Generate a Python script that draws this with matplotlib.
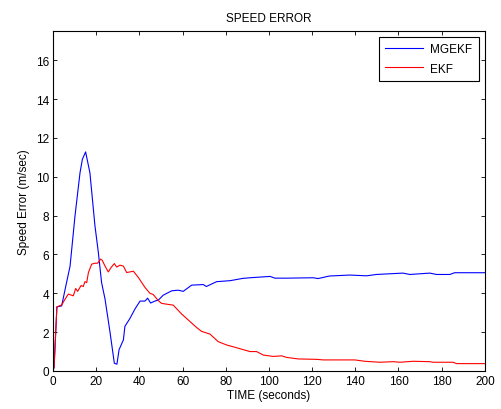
import numpy as np
import matplotlib
matplotlib.use('Agg')
import matplotlib.pyplot as plt

plt.rcParams['font.family'] = ['Liberation Sans', 'DejaVu Sans']

# MGEKF speed error
t_mgekf = [0, 0.5, 1.8, 4, 5.6, 7.9, 10.2, 12.5, 13.6, 15.1, 17.1, 19.4, 21, 22.5,
           24.1, 26.4, 28.4, 29.6, 30.6, 32.6, 33.3, 35.6, 38, 40.3, 42.6, 43.8,
           45.2, 47.2, 48.8, 51, 55, 58, 60.3, 64.2, 69.6, 71, 75.8, 82, 88, 91.2,
           100.5, 102.8, 108, 120.5, 122.8, 128, 137.5, 145.2, 149.8, 162, 165.3,
           174.5, 177.6, 183.8, 186, 200]
v_mgekf = [0, 0.2, 3.3, 3.35, 4.2, 5.4, 8.0, 10.2, 10.9, 11.28, 10.2, 7.5, 6.1, 4.55,
           3.7, 2.0, 0.4, 0.35, 1.1, 1.6, 2.3, 2.7, 3.2, 3.6, 3.6, 3.75,
           3.5, 3.6, 3.65, 3.9, 4.13, 4.16, 4.1, 4.42, 4.45, 4.35, 4.6, 4.65, 4.77, 4.8,
           4.87, 4.78, 4.78, 4.8, 4.76, 4.89, 4.94, 4.9, 4.97, 5.04, 4.97,
           5.04, 4.97, 4.97, 5.06, 5.06]

# EKF speed error
t_ekf = [0, 0.5, 1.8, 4, 5.6, 7.1, 9.4, 10.5, 11.4, 13, 14, 14.8, 15.6, 16.4, 17.9,
         19.4, 20.7, 22, 22.8, 24.1, 25.6, 26.9, 28.4, 29.5, 31, 32.6, 34.1, 35.6,
         37.2, 39.5, 42.6, 44.9, 46.4, 48.8, 50.3, 55.7, 59.6, 64.2, 66.5, 68.8,
         72.7, 76.5, 80.4, 84.3, 91.2, 94.3, 97.4, 102, 105.9, 108.2, 113.6, 122,
         125.2, 132.9, 139.8, 144.4, 151.4, 157.5, 160.6, 166.8, 174.5, 176, 185.3,
         186.9, 200]
v_ekf = [0, 0.2, 3.3, 3.4, 3.7, 3.96, 3.87, 4.25, 4.1, 4.4, 4.35, 4.6, 4.55, 5.07, 5.5,
         5.55, 5.55, 5.76, 5.7, 5.4, 5.1, 5.33, 5.53, 5.35, 5.45, 5.4, 5.07, 5.1,
         5.14, 4.82, 4.3, 4.0, 3.94, 3.62, 3.48, 3.39, 2.93, 2.47, 2.24, 2.04,
         1.9, 1.51, 1.34, 1.22, 1.0, 1.0, 0.82, 0.75, 0.78, 0.7, 0.62, 0.6,
         0.57, 0.57, 0.57, 0.5, 0.45, 0.48, 0.45, 0.5, 0.48, 0.45, 0.45,
         0.38, 0.38]

fig = plt.figure(figsize=(5.01, 4.10), dpi=100)
ax = fig.add_axes([0.1058, 0.0927, 0.862, 0.829])

ax.plot(t_mgekf, v_mgekf, color='#0000ff', linewidth=0.8, label='MGEKF')
ax.plot(t_ekf, v_ekf, color='#ff0000', linewidth=0.8, label='EKF')

ax.set_xlim(0, 200)
ax.set_ylim(0, 17.5)
ax.set_xticks(np.arange(0, 201, 20))
ax.set_yticks(np.arange(0, 17, 2))
ax.tick_params(direction='in', top=True, right=True, length=3, width=0.6,
               labelsize=8.5, pad=3, colors='black')
for s in ax.spines.values():
    s.set_linewidth(0.8)

ax.set_title('SPEED ERROR', fontsize=8.5, pad=7)
ax.set_xlabel('TIME (seconds)', fontsize=8.5, labelpad=1)
ax.set_ylabel('Speed Error (m/sec)', fontsize=8.5, labelpad=4)

leg = ax.legend(loc='upper right', fontsize=8.5, fancybox=False, framealpha=1,
                edgecolor='black', handlelength=3.2, borderaxespad=0.5,
                borderpad=0.55, labelspacing=0.6, handletextpad=0.6)
leg.get_frame().set_linewidth(0.8)

fig.savefig('out.png', dpi=100, facecolor='white')
